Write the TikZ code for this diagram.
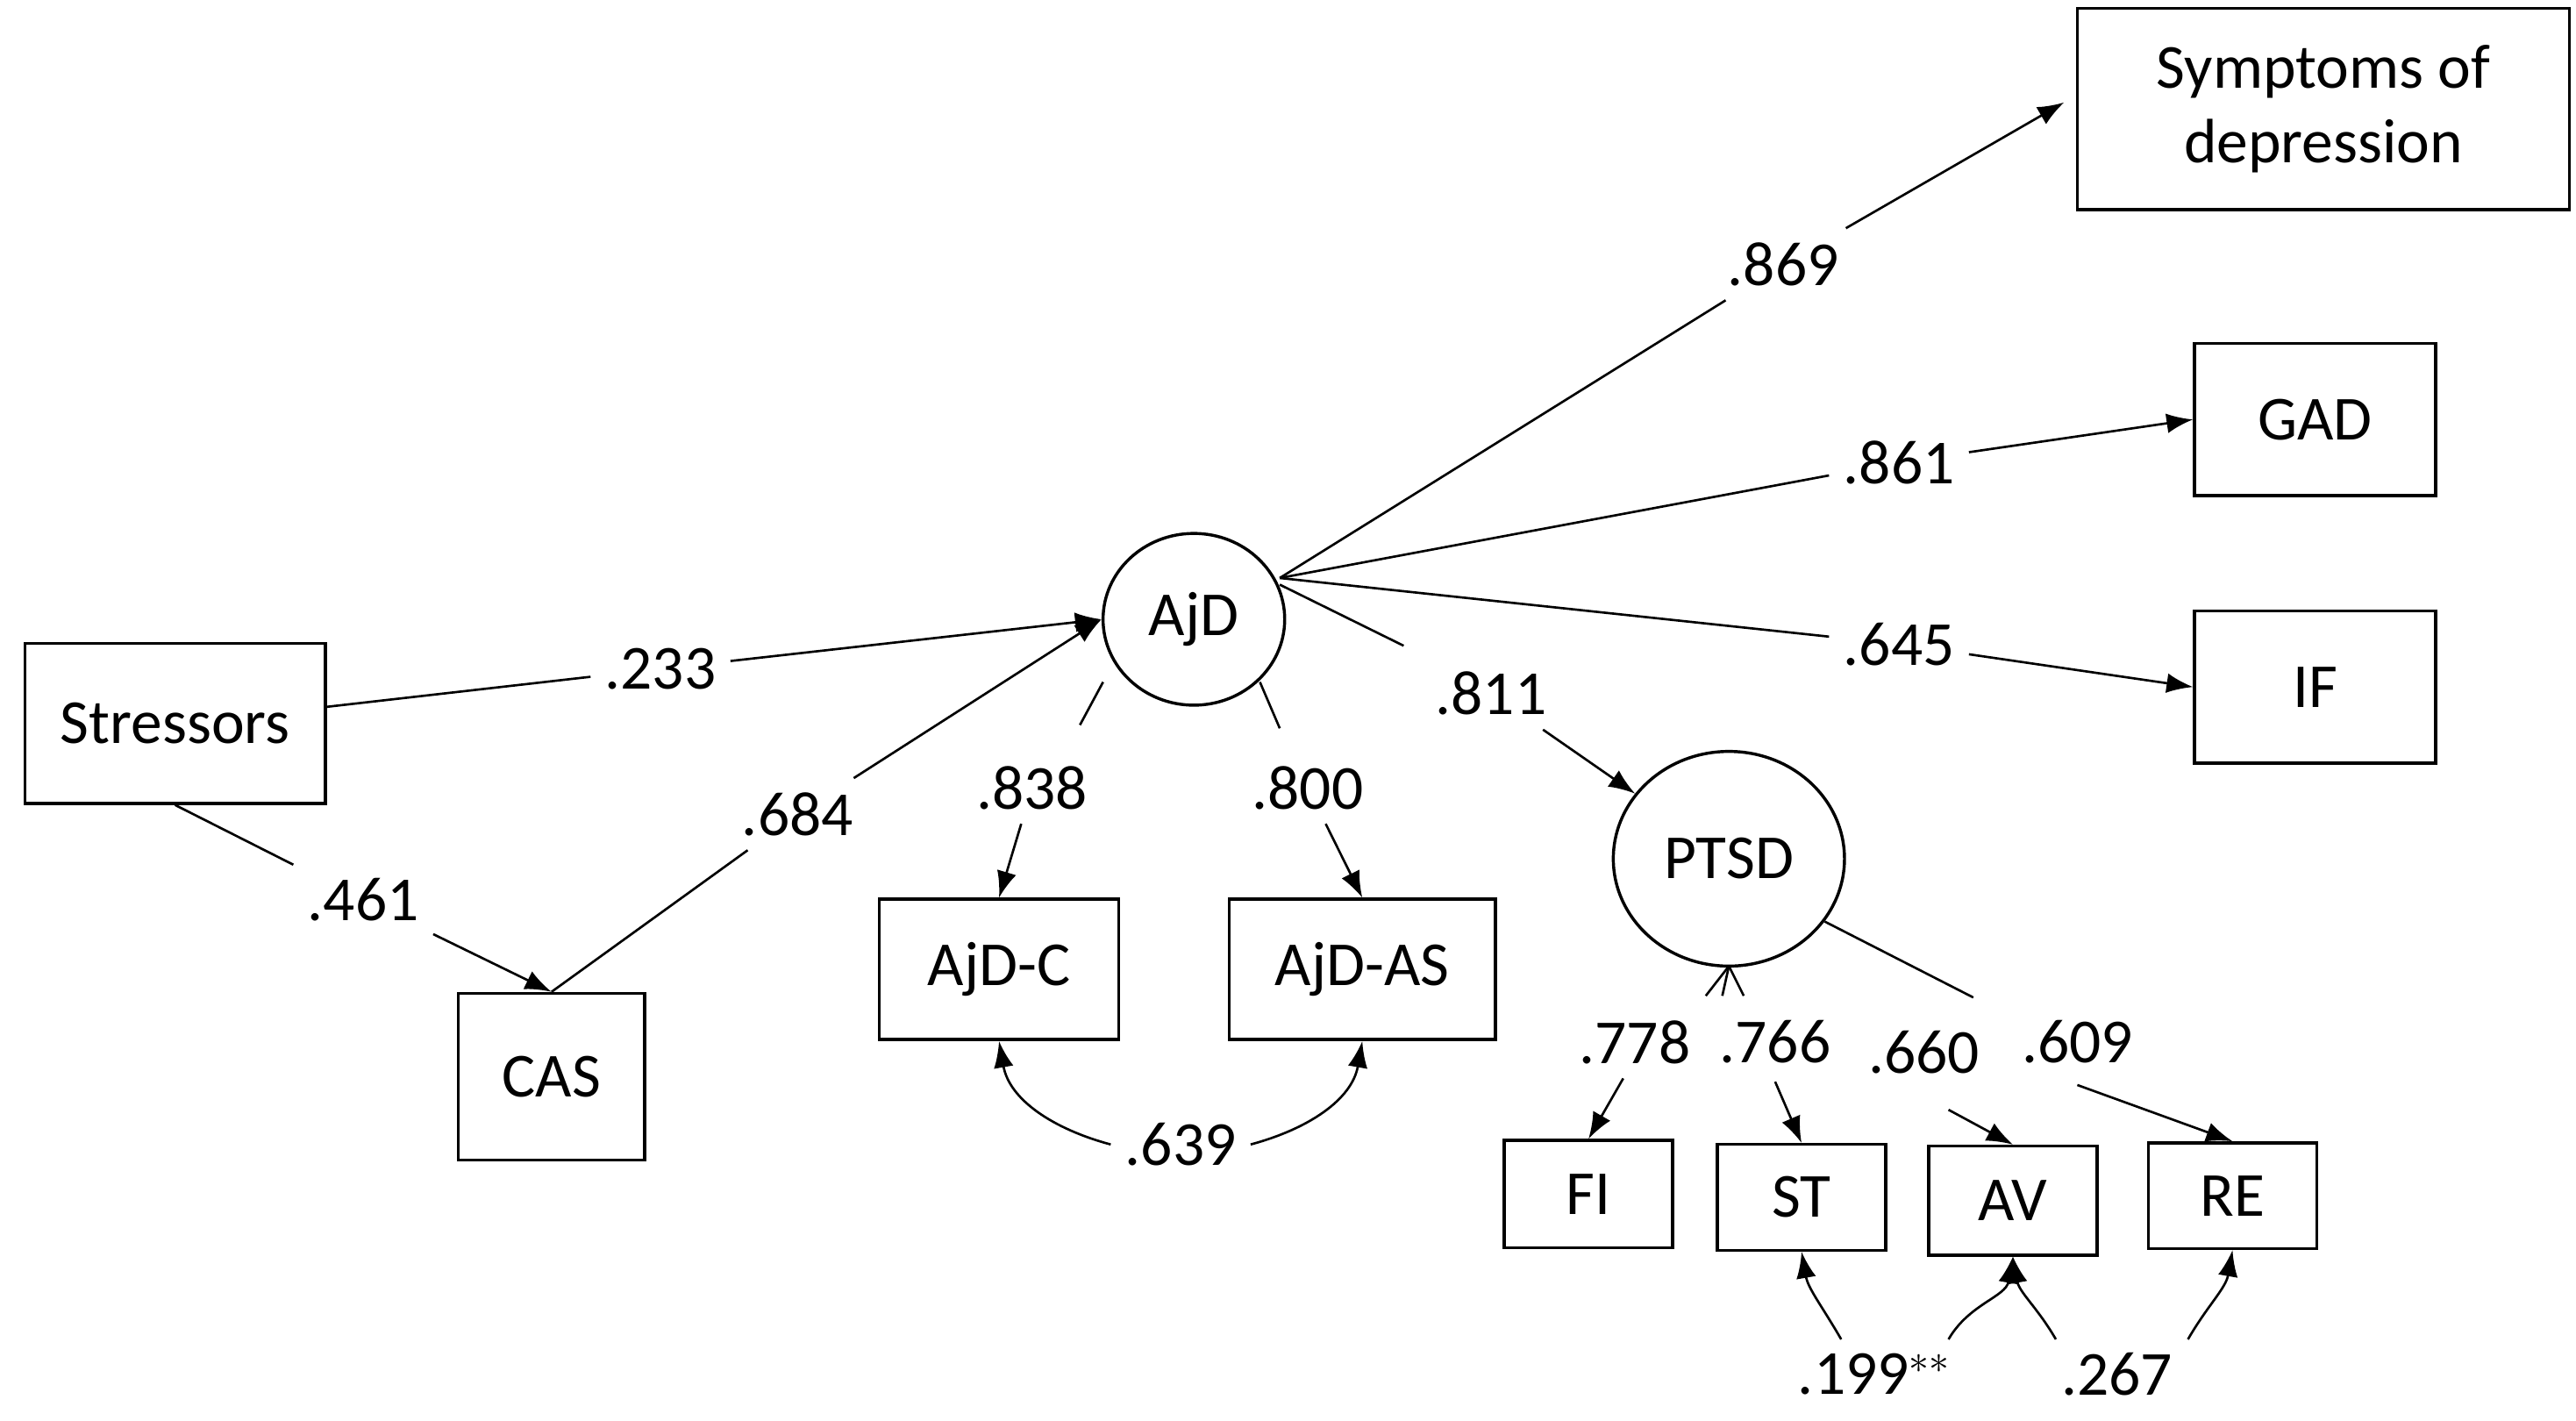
\documentclass[tikz,border=0pt]{standalone}
\usepackage{fontspec}
\setmainfont{Carlito}
\usetikzlibrary{arrows.meta,shapes.geometric}
\begin{document}
\begin{tikzpicture}[x=0.25mm,y=-0.25mm,
  font=\fontsize{27pt}{32pt}\selectfont,
  box/.style={draw,line width=1.3pt,rectangle,inner sep=0pt},
  lat/.style={draw,line width=1.3pt,ellipse,inner sep=0pt},
  lab/.style={inner sep=6pt},
  ln/.style={line width=1pt},
  ar/.style={line width=1pt,-{Latex[length=4mm,width=3mm]}}]
\useasboundingbox (0,0) rectangle (1560,860);
% boxes
\node[box,minimum width=182*0.25mm,minimum height=97*0.25mm] (S) at (106,438) {Stressors};
\node[box,minimum width=113*0.25mm,minimum height=101*0.25mm] (CAS) at (334,652) {CAS};
\node[lat,minimum width=110*0.25mm,minimum height=104*0.25mm] (AjD) at (723,375) {AjD};
\node[box,minimum width=145*0.25mm,minimum height=85*0.25mm] (AC) at (605,587) {AjD-C};
\node[box,minimum width=161*0.25mm,minimum height=85*0.25mm] (AA) at (825,587) {AjD-AS};
\node[lat,minimum width=140*0.25mm,minimum height=130*0.25mm] (P) at (1047,520) {PTSD};
\node[box,minimum width=298*0.25mm,minimum height=122*0.25mm,align=center] (SD) at (1407,66) {Symptoms of\\depression};
\node[box,minimum width=146*0.25mm,minimum height=92*0.25mm] (GAD) at (1402,254) {GAD};
\node[box,minimum width=146*0.25mm,minimum height=92*0.25mm] (IF) at (1402,416) {IF};
\node[box,minimum width=102*0.25mm,minimum height=65*0.25mm] (FI) at (962,723) {FI};
\node[box,minimum width=102*0.25mm,minimum height=64*0.25mm] (ST) at (1091,725) {ST};
\node[box,minimum width=102*0.25mm,minimum height=66*0.25mm] (AV) at (1219,727) {AV};
\node[box,minimum width=102*0.25mm,minimum height=64*0.25mm] (RE) at (1352,724) {RE};
% labels
\node[lab] (l233) at (400,405) {.233};
\node[lab] (l461) at (220,545) {.461};
\node[lab] (l684) at (483,493) {.684};
\node[lab] (l838) at (625,477) {.838};
\node[lab] (l800) at (792,477) {.800};
\node[lab] (l639) at (715,693) {.639};
\node[lab] (l811) at (903,420) {.811};
\node[lab] (l869) at (1080,160) {.869};
\node[lab] (l861) at (1150,280) {.861};
\node[lab] (l645) at (1150,390) {.645};
\node[lab] (l778) at (990,631) {.778};
\node[lab] (l766) at (1075,631) {.766};
\node[lab] (l660) at (1165,637) {.660};
\node[lab] (l609) at (1258,631) {.609};
\node[lab] (l199) at (1135,832) {.199$^{**}$};
\node[lab] (l267) at (1282,832) {.267};
% paths
\draw[ln] (S.east|-428,428) -- (l233);
\draw[ar] (l233) -- (AjD.west);
\draw[ln] (S.south) ++(0,0) coordinate (s1) (s1) -- (l461);
\draw[ar] (l461) -- (CAS.north);
\draw[ln] (CAS.north) -- (l684);
\draw[ar] (l684) -- (AjD.west);
\draw[ln] (AjD) ++(-55,38) coordinate (a1) (a1) -- ++(-14,26);
\draw[ar] (l838) -- (AC.north);
\draw[ln] (AjD) ++(40,38) coordinate (a2) (a2) -- ++(12,28);
\draw[ar] (l800) -- (AA.north);
\draw[ar] (l639.west) to[out=165,in=-80] (AC.south);
\draw[ar] (l639.east) to[out=15,in=-100] (AA.south);
\coordinate (hub) at (775,350);
\draw[ln] (hub) -- (l869);
\draw[ar] (l869) -- (1250,62);
\draw[ln] (hub) -- (l861);
\draw[ar] (l861) -- (GAD.west);
\draw[ln] (hub) -- (l645);
\draw[ar] (l645) -- (IF.west);
\draw[ln] (hub) ++(0,4) coordinate (h2) (h2) -- ++(75,37);
\draw[ar] (l811) -- (P);
\coordinate (pb) at (1047,585);
\draw[ln] (pb) -- ++(-14,18);
\draw[ln] (pb) -- ++(-4,18);
\draw[ln] (pb) -- ++(9,18);
\draw[ar] (983,653) -- (FI.north west-|962,691);
\draw[ar] (1075,655) -- (ST.north);
\draw[ar] (1180,672) -- (AV.north);
\draw[ln] (P) ++(58,38) coordinate (p2) (p2) -- (1195,604);
\draw[ar] (1258,657) -- (RE.north);
\draw[ar] (1115,811) to[out=120,in=-80] (ST.south);
\draw[ar] (1180,811) to[out=60,in=-100] (AV.south);
\draw[ar] (1245,811) to[out=120,in=-80] (AV.south);
\draw[ar] (1325,811) to[out=60,in=-100] (RE.south);
\end{tikzpicture}
\end{document}
